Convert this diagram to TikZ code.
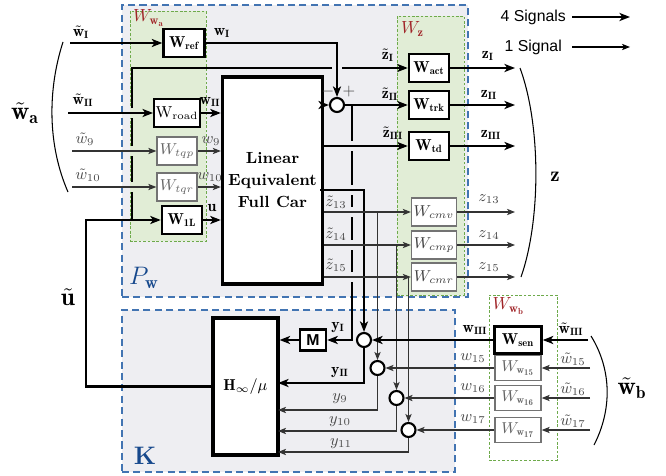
\documentclass[tikz,border=0pt]{standalone}
\usepackage{fontspec}
\usepackage{amsmath}
\usepackage{tikz}
\usetikzlibrary{arrows.meta,positioning,backgrounds}
\newfontfamily\lgdfont{Liberation Sans}
\definecolor{pwgray}{RGB}{238,238,242}
\definecolor{bordblue}{RGB}{66,116,178}
\definecolor{lblblue}{RGB}{22,72,140}
\definecolor{wgreen}{RGB}{225,237,214}
\definecolor{dotgreen}{RGB}{110,170,75}
\definecolor{wred}{RGB}{160,36,40}
% small gaps where a line passes under another one
\newcommand{\gapv}[2]{\fill[#2] (#1) ++(-1.2pt,-2.6pt) rectangle ++(2.4pt,5.2pt);}
\newcommand{\gaph}[2]{\fill[#2] (#1) ++(-2.6pt,-1.2pt) rectangle ++(5.2pt,2.4pt);}

\begin{document}
\begin{tikzpicture}[
  wbox/.style={draw, line width=1.4pt, fill=white, minimum width=0.80cm, minimum height=0.56cm, inner sep=1pt, font=\small},
  wmid/.style={wbox, line width=1pt},
  wlite/.style={wbox, draw=black!55, line width=0.8pt, text=black!60},
  sumj/.style={circle, draw, line width=1.2pt, fill=white, minimum size=0.28cm, inner sep=0pt},
  big/.style={draw, line width=1.8pt, fill=white, align=center},
  region/.style={draw=bordblue, fill=pwgray, line width=0.8pt, dash pattern=on 4pt off 2.5pt, inner sep=0pt},
  wregion/.style={draw=dotgreen, fill=wgreen, line width=0.5pt, dash pattern=on 1.5pt off 1pt, inner sep=0pt},
  sig4/.style={line width=1.4pt, -{Stealth[length=6pt,width=4.6pt,inset=1.6pt]}},
  sig1/.style={line width=0.6pt, draw=black!80, -{Stealth[length=4.6pt,width=3.6pt,inset=1.2pt]}},
  lbl/.style={font=\small, inner sep=1pt},
  lbg/.style={lbl, text=black!70},
  rlbl/.style={font=\normalsize, text=wred, inner sep=1pt, anchor=west},
  brace/.style={line width=0.6pt}
]
\useasboundingbox (0,0) rectangle (13.32,-9.50);

% Regions
\node[region, minimum width=6.92cm, minimum height=5.84cm] (Pw) at (5.90,-3.02) {};
\node[region, minimum width=6.66cm, minimum height=3.24cm] (K) at (5.77,-7.82) {};
\node[wregion, minimum width=1.52cm, minimum height=4.60cm] (Wwa) at (3.36,-2.52) {};
\node[wregion, minimum width=1.34cm, minimum height=5.58cm] (Wz) at (8.61,-3.11) {};
\node[wregion, fill=none, minimum width=1.36cm, minimum height=3.30cm] (Wwb) at (10.46,-7.55) {};
\node[text=lblblue, font=\Large] (lPw) at (2.88,-5.56) {$P_\mathbf{w}$};
\node[text=lblblue, font=\Large\bfseries] (lK) at (2.90,-9.12) {K};

% Weights and plant
\node[wbox, minimum width=0.82cm] (Wref) at (3.68,-0.86) {$\mathbf{W}_\mathbf{ref}$};
\node[wmid] (Wroad) at (3.54,-2.26) {$\mathrm{W}_\mathrm{road}$};
\node[wlite] (Wtqp) at (3.54,-3.02) {$W_{tqp}$};
\node[wlite] (Wtqr) at (3.54,-3.74) {$W_{tqr}$};
\node[wbox] (W1L) at (3.64,-4.40) {$\mathbf{W}_\mathbf{1L}$};
\node[big, minimum width=1.90cm, minimum height=4.14cm, font=\fontsize{9.2}{12.5}\selectfont\bfseries] (car) at (5.45,-3.61) {Linear\\Equivalent\\Full Car};
\node[sumj] (s0) at (6.74,-2.10) {};
\node[wbox] (Wact) at (8.58,-1.36) {$\mathbf{W}_\mathbf{act}$};
\node[wbox] (Wtrk) at (8.58,-2.10) {$\mathbf{W}_\mathbf{trk}$};
\node[wbox] (Wtd)  at (8.58,-2.92) {$\mathbf{W}_\mathbf{td}$};
\node[wlite, minimum width=0.90cm, text=black!75] (Wcmv) at (8.68,-4.24) {$W_{cmv}$};
\node[wlite, minimum width=0.90cm, text=black!75] (Wcmp) at (8.68,-4.90) {$W_{cmp}$};
\node[wlite, minimum width=0.90cm, text=black!75] (Wcmr) at (8.68,-5.54) {$W_{cmr}$};

% Controller side
\node[big, minimum width=1.30cm, minimum height=2.74cm, font=\small] (Hinf) at (4.91,-7.73) {$\mathbf{H}_\infty/\mu$};
\node[wbox, minimum width=0.52cm, minimum height=0.42cm, inner sep=0pt, font=\small\lgdfont\bfseries] (M) at (6.26,-6.80) {M};
\node[sumj] (c1) at (7.28,-6.80) {};
\node[sumj] (c2) at (7.55,-7.36) {};
\node[sumj] (c3) at (7.93,-7.96) {};
\node[sumj] (c4) at (8.17,-8.60) {};
\node[wbox, minimum width=0.94cm, minimum height=0.54cm] (Wsen) at (10.36,-6.80) {$\mathbf{W}_\mathbf{sen}$};
\node[wlite, minimum width=0.92cm, minimum height=0.50cm] (Ww15) at (10.36,-7.36) {$W_{\mathbf{w}_\mathbf{15}}$};
\node[wlite, minimum width=0.92cm, minimum height=0.50cm] (Ww16) at (10.36,-7.96) {$W_{\mathbf{w}_\mathbf{16}}$};
\node[wlite, minimum width=0.92cm, minimum height=0.50cm] (Ww17) at (10.36,-8.60) {$W_{\mathbf{w}_\mathbf{17}}$};

% Region titles
\node[rlbl] (lWwa) at (2.62,-0.36) {$W_{\mathbf{w}_\mathbf{a}}$};
\node[rlbl] (lWz) at (7.98,-0.58) {$W_\mathbf{z}$};
\node[rlbl] (lWwb) at (9.81,-6.12) {$W_{\mathbf{w}_\mathbf{b}}$};

% Free ends and corners
\coordinate (wtI) at (1.40,-0.86);
\coordinate (wtII) at (1.36,-2.26);
\coordinate (wt9) at (1.44,-3.02);
\coordinate (wt10) at (1.44,-3.74);
\coordinate (ucor) at (1.72,-7.73);
\coordinate (ubr) at (2.64,-4.40);
\coordinate (mbr) at (7.04,-2.10);
\coordinate (yout) at (6.40,-3.80);
\coordinate (zI) at (10.30,-1.36);
\coordinate (zII) at (10.30,-2.10);
\coordinate (zIII) at (10.30,-2.92);
\coordinate (z13) at (10.30,-4.24);
\coordinate (z14) at (10.30,-4.90);
\coordinate (z15) at (10.30,-5.54);
\coordinate (hII) at (5.56,-7.66);
\coordinate (h9) at (5.56,-8.20);
\coordinate (h10) at (5.56,-8.62);
\coordinate (h11) at (5.56,-9.04);
\coordinate (wtIII) at (11.76,-6.80);
\coordinate (wt15) at (11.80,-7.36);
\coordinate (wt16) at (11.80,-7.96);
\coordinate (wt17) at (11.80,-8.60);

% Lines that pass underneath
\draw[sig4] (Hinf) -- (ucor) |- (W1L);
\draw[sig4] (ubr) |- (Wact);
\draw[sig4] (mbr) |- (M);
\gapv{ubr |- Wroad}{wgreen}
\gapv{ubr |- Wtqp}{wgreen}
\gapv{ubr |- Wtqr}{wgreen}
\gaph{s0 |- Wact}{pwgray}
\gapv{mbr |- Wtd}{pwgray}
\gapv{mbr |- yout}{pwgray}
\gapv{mbr |- Wcmv}{pwgray}
\gapv{mbr |- Wcmp}{pwgray}
\gapv{mbr |- Wcmr}{pwgray}

% Signals into the plant
\draw[sig4] (wtI) -- (Wref);
\draw[sig4] (wtII) -- (Wroad);
\draw[sig1] (wt9) -- (Wtqp);
\draw[sig1] (wt10) -- (Wtqr);
\draw[sig4] (Wref) -| (s0);
\draw[sig4] (Wroad) -- (car.west |- Wroad);
\draw[sig1] (Wtqp) -- (car.west |- Wtqp);
\draw[sig1] (Wtqr) -- (car.west |- Wtqr);
\draw[sig4] (W1L) -- (car.west |- W1L);

% Signals out of the plant
\draw[sig4] (car.east |- s0) -- (s0);
\draw[sig4] (s0) -- (Wtrk);
\draw[sig4] (car.east |- Wtd) -- (Wtd);
\draw[sig4] (yout) -| (c1);
\draw[sig1] (car.east |- Wcmv) -- (Wcmv);
\draw[sig1] (car.east |- Wcmp) -- (Wcmp);
\draw[sig1] (car.east |- Wcmr) -- (Wcmr);
\draw[sig1] (c2 |- Wcmv) -- (c2);
\draw[sig1] (c3 |- Wcmp) -- (c3);
\draw[sig1] (c4 |- Wcmr) -- (c4);
\draw[sig4] (Wact) -- (zI);
\draw[sig4] (Wtrk) -- (zII);
\draw[sig4] (Wtd) -- (zIII);
\draw[sig1] (Wcmv) -- (z13);
\draw[sig1] (Wcmp) -- (z14);
\draw[sig1] (Wcmr) -- (z15);

% Measurements
\draw[sig4] (wtIII) -- (Wsen);
\draw[sig1] (wt15) -- (Ww15);
\draw[sig1] (wt16) -- (Ww16);
\draw[sig1] (wt17) -- (Ww17);
\draw[sig4] (Wsen) -- (c1);
\draw[sig1] (Ww15) -- (c2);
\draw[sig1] (Ww16) -- (c3);
\draw[sig1] (Ww17) -- (c4);
\draw[sig4] (M) -- (Hinf.east |- M);
\draw[sig4] (c1) |- (hII);
\draw[sig1] (c2) |- (h9);
\draw[sig1] (c3) |- (h10);
\draw[sig1] (c4) |- (h11);

% Signal labels
\node[lbl] (lwtI) at (1.62,-0.64) {$\tilde{\mathbf{w}}_\mathbf{I}$};
\node[lbl] (lwtII) at (1.66,-2.00) {$\tilde{\mathbf{w}}_\mathbf{II}$};
\node[lbg] (lwt9) at (1.70,-2.78) {$\tilde{w}_9$};
\node[lbg] (lwt10) at (1.76,-3.50) {$\tilde{w}_{10}$};
\node[lbl] (lwI) at (4.44,-0.66) {$\mathbf{w}_\mathbf{I}$};
\node[lbl] (lwII) at (4.20,-2.04) {$\mathbf{w}_\mathbf{II}$};
\node[lbg] (lw9) at (4.22,-2.82) {$w_9$};
\node[lbg] (lw10) at (4.20,-3.54) {$w_{10}$};
\node[lbl] (lu) at (4.24,-4.16) {$\mathbf{u}$};
\node[lbl] (lztI) at (7.76,-1.10) {$\tilde{\mathbf{z}}_\mathbf{I}$};
\node[lbl] (lztII) at (7.80,-1.88) {$\tilde{\mathbf{z}}_\mathbf{II}$};
\node[lbl] (lztIII) at (7.86,-2.66) {$\tilde{\mathbf{z}}_\mathbf{III}$};
\node[lbg] (lzt13) at (6.72,-4.04) {$\tilde{z}_{13}$};
\node[lbg] (lzt14) at (6.72,-4.68) {$\tilde{z}_{14}$};
\node[lbg] (lzt15) at (6.72,-5.30) {$\tilde{z}_{15}$};
\node[lbl] (lzI) at (9.76,-1.12) {$\mathbf{z}_\mathbf{I}$};
\node[lbl] (lzII) at (9.78,-1.90) {$\mathbf{z}_\mathbf{II}$};
\node[lbl] (lzIII) at (9.82,-2.70) {$\mathbf{z}_\mathbf{III}$};
\node[lbg] (lz13) at (9.78,-3.98) {$z_{13}$};
\node[lbg] (lz14) at (9.78,-4.70) {$z_{14}$};
\node[lbg] (lz15) at (9.78,-5.34) {$z_{15}$};
\node[lbg] (lminus) at (6.56,-1.84) {$-$};
\node[lbg] (lplus) at (6.98,-1.84) {$+$};
\node[lbl] (lyI) at (6.76,-6.56) {$\mathbf{y}_\mathbf{I}$};
\node[lbl] (lyII) at (6.80,-7.46) {$\mathbf{y}_\mathbf{II}$};
\node[lbg] (ly9) at (6.80,-7.98) {$y_9$};
\node[lbg] (ly10) at (6.80,-8.44) {$y_{10}$};
\node[lbg] (ly11) at (6.82,-8.88) {$y_{11}$};
\node[lbl] (lwIII) at (9.50,-6.60) {$\mathbf{w}_\mathbf{III}$};
\node[lbg] (lw15) at (9.46,-7.16) {$w_{15}$};
\node[lbg] (lw16) at (9.46,-7.76) {$w_{16}$};
\node[lbg] (lw17) at (9.46,-8.38) {$w_{17}$};
\node[lbl] (lwtIII) at (11.42,-6.58) {$\tilde{\mathbf{w}}_\mathbf{III}$};
\node[lbg] (lwt15) at (11.46,-7.18) {$\tilde{w}_{15}$};
\node[lbg] (lwt16) at (11.46,-7.78) {$\tilde{w}_{16}$};
\node[lbg] (lwt17) at (11.46,-8.42) {$\tilde{w}_{17}$};

% Grouped vectors
\draw[brace] (1.26,-0.84) .. controls (0.95,-1.8) and (0.95,-2.9) .. (1.36,-3.84);
\draw[brace] (10.40,-1.36) .. controls (10.82,-2.5) and (10.82,-4.4) .. (10.42,-5.54);
\draw[brace] (11.82,-6.72) .. controls (12.24,-7.4) and (12.24,-8.2) .. (11.88,-8.90);
\node[font=\Large] (lwa) at (0.50,-2.26) {$\tilde{\mathbf{w}}_\mathbf{a}$};
\node[font=\large] (lz) at (11.10,-3.54) {$\mathbf{z}$};
\node[font=\Large] (lwb) at (12.64,-7.76) {$\tilde{\mathbf{w}}_\mathbf{b}$};
\node[font=\Large] (lut) at (1.36,-5.94) {$\tilde{\mathbf{u}}$};

% Legend
\node[font=\small\lgdfont, anchor=east] (lg4) at (11.44,-0.34) {4 Signals};
\node[font=\small\lgdfont, anchor=east] (lg1) at (11.36,-0.94) {1 Signal};
\coordinate (lg4e) at (12.60,-0.34);
\coordinate (lg1e) at (12.60,-0.94);
\draw[sig4] (lg4) -- (lg4e);
\draw[sig1, draw=black] (lg1.east -| lg4.east) -- (lg1e);
\end{tikzpicture}
\end{document}
